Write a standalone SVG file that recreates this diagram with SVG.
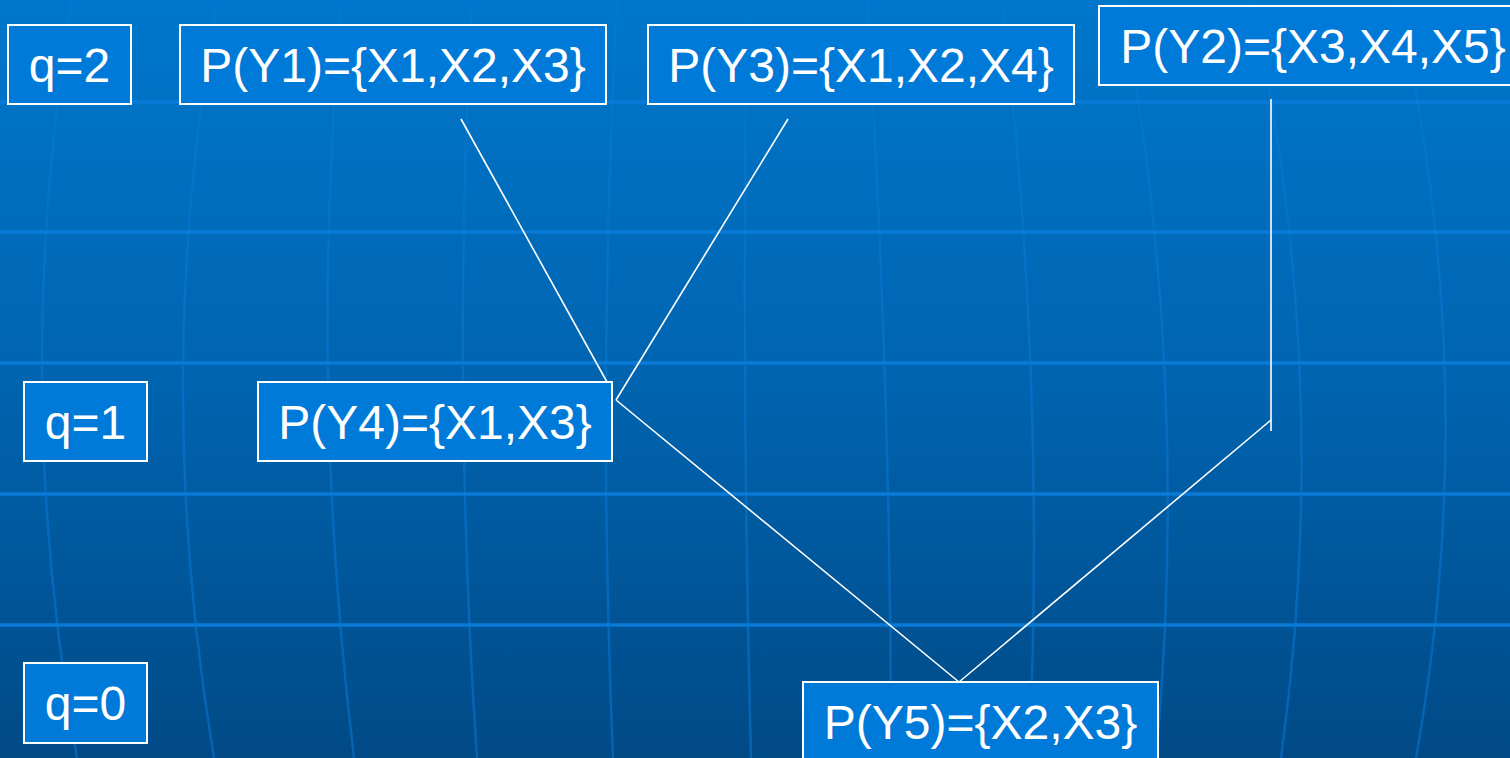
<svg xmlns="http://www.w3.org/2000/svg" width="1510" height="758" viewBox="0 0 1510 758">
<defs>
<linearGradient id="bg" x1="0" y1="0" x2="0" y2="1">
<stop offset="0" stop-color="#0077cc"/>
<stop offset="0.5" stop-color="#0064b0"/>
<stop offset="1" stop-color="#004a86"/>
</linearGradient>
<style>
.box{fill:#007ad8;stroke:#ffffff;stroke-width:2}
.lbl{fill:#ffffff;font-family:"Liberation Sans",Arial,sans-serif;font-size:48px;text-anchor:middle}
.hl{stroke:#0a7ad8;stroke-width:3.5;fill:none}
.ml{stroke:#0a78d6;stroke-width:2.5;fill:none;opacity:0.55}
.edge{stroke:#ffffff;stroke-width:1.6;fill:none}
</style>
</defs>
<rect x="0" y="0" width="1510" height="758" fill="url(#bg)"/>
<g id="grid">
<path class="ml" d="M72,0 Q9.5,379 77,758"/>
<path class="ml" d="M217,0 Q150.5,379 214,758"/>
<path class="ml" d="M342,0 Q308,379 354,758"/>
<path class="ml" d="M472,0 Q451.5,379 477,758"/>
<path class="ml" d="M617,0 Q597,379 613,758"/>
<path class="ml" d="M747,0 Q741,379 751,758"/>
<path class="ml" d="M867,0 Q891,379 891,758"/>
<path class="ml" d="M1002,0 Q1046.5,379 1029,758"/>
<path class="ml" d="M1122,0 Q1191,379 1156,758"/>
<path class="ml" d="M1252,0 Q1333.5,379 1281,758"/>
<path class="ml" d="M1397,0 Q1483.5,379 1416,758"/>
<line class="hl" x1="0" y1="102" x2="1510" y2="102"/>
<line class="hl" x1="0" y1="232" x2="1510" y2="232"/>
<line class="hl" x1="0" y1="363" x2="1510" y2="363"/>
<line class="hl" x1="0" y1="494" x2="1510" y2="494"/>
<line class="hl" x1="0" y1="625" x2="1510" y2="625"/>
</g>
<g id="connectors">
<line class="edge" x1="461" y1="119" x2="607" y2="382"/>
<line class="edge" x1="788" y1="119" x2="616" y2="400"/>
<line class="edge" x1="616" y1="400" x2="959" y2="682"/>
<line class="edge" x1="1271" y1="99" x2="1271" y2="431"/>
<line class="edge" x1="1271" y1="420" x2="959" y2="682"/>
</g>
<g id="q2"><rect class="box" x="8" y="25" width="123" height="79"/><text class="lbl" x="69.5" y="82">q=2</text></g>
<g id="PY1"><rect class="box" x="180" y="25" width="426" height="79"/><text class="lbl" x="393" y="82">P(Y1)={X1,X2,X3}</text></g>
<g id="PY3"><rect class="box" x="648" y="25" width="426" height="79"/><text class="lbl" x="861" y="82">P(Y3)={X1,X2,X4}</text></g>
<g id="PY2"><rect class="box" x="1099" y="6" width="426" height="79"/><text class="lbl" x="1313" y="63">P(Y2)={X3,X4,X5}</text></g>
<g id="q1"><rect class="box" x="24" y="382" width="123" height="79"/><text class="lbl" x="85.5" y="439">q=1</text></g>
<g id="PY4"><rect class="box" x="258" y="382" width="354" height="79"/><text class="lbl" x="435" y="439">P(Y4)={X1,X3}</text></g>
<g id="q0"><rect class="box" x="24" y="663" width="123" height="80"/><text class="lbl" x="85.5" y="720">q=0</text></g>
<g id="PY5"><rect class="box" x="803" y="682" width="355" height="79"/><text class="lbl" x="980.5" y="739">P(Y5)={X2,X3}</text></g>
</svg>
